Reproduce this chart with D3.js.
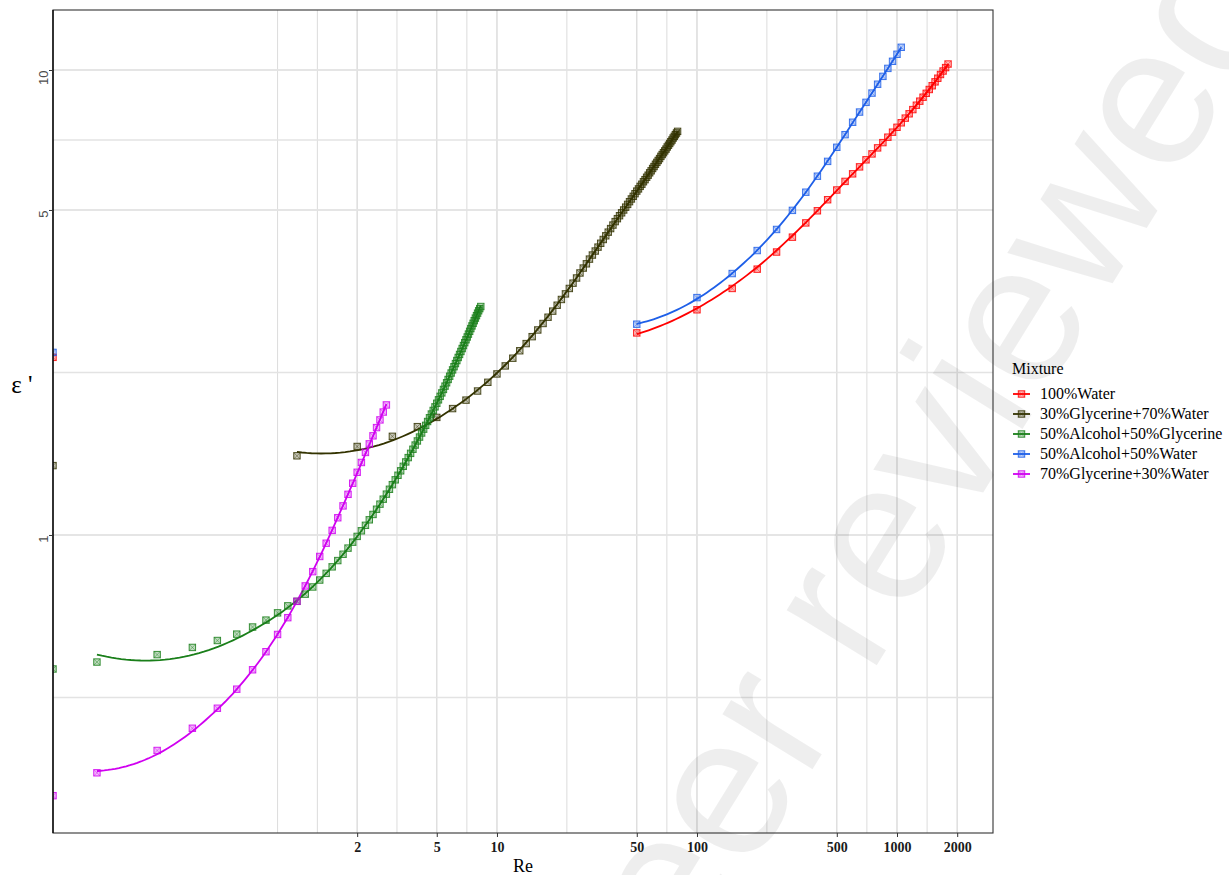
<!DOCTYPE html>
<html>
<head>
<meta charset="utf-8">
<script src="https://cdn.jsdelivr.net/npm/d3@7"></script>
<style>
  body { margin: 0; background: #ffffff; }
  svg { display: block; }
</style>
</head>
<body>
<svg id="chart" width="1229" height="875"></svg>
<script>
// ---------------------------------------------------------------
// Data: real part of permittivity (ε') against Reynolds number
// ---------------------------------------------------------------
const mixtures = [
  "100%Water",
  "30%Glycerine+70%Water",
  "50%Alcohol+50%Glycerine",
  "50%Alcohol+50%Water",
  "70%Glycerine+30%Water"
];

const reWater = [0, 50, 100, 150, 200, 250, 300, 350, 400, 450, 500, 550, 600, 650, 700, 750, 800, 850, 900, 950,
  1000, 1050, 1100, 1150, 1200, 1250, 1300, 1350, 1400, 1450, 1500, 1550, 1600, 1650, 1700, 1750, 1800];
const epsWater = [2.41, 2.72, 3.05, 3.39, 3.73, 4.06, 4.37, 4.69, 4.98, 5.26, 5.52, 5.76, 5.98, 6.19, 6.41, 6.60, 6.80, 6.98, 7.17, 7.35,
  7.53, 7.70, 7.88, 8.05, 8.22, 8.40, 8.57, 8.74, 8.91, 9.08, 9.25, 9.43, 9.60, 9.78, 9.95, 10.12, 10.30];

const reGly30 = [0, 1, 2, 3, 4, 5, 6, 7, 8, 9, 10, 11, 12, 13, 14, 15, 16, 17, 18, 19, 20,
  21, 22, 23, 24, 25, 26, 27, 28, 29, 30, 31, 32, 33, 34, 35, 36, 37, 38, 39, 40,
  41, 42, 43, 44, 45, 46, 47, 48, 49, 50, 51, 52, 53, 54, 55, 56, 57, 58, 59, 60,
  61, 62, 63, 64, 65, 66, 67, 68, 69, 70, 71, 72, 73, 74, 75, 76, 77, 78, 79, 80];
const epsGly30 = [1.41, 1.48, 1.55, 1.63, 1.71, 1.79, 1.87, 1.95, 2.04, 2.13, 2.22, 2.31, 2.40, 2.49, 2.58, 2.67, 2.76, 2.85, 2.94, 3.03, 3.12,
  3.21, 3.30, 3.39, 3.48, 3.57, 3.66, 3.75, 3.83, 3.92, 4.00, 4.08, 4.16, 4.24, 4.32, 4.40, 4.48, 4.56, 4.64, 4.72, 4.79,
  4.86, 4.93, 5.00, 5.07, 5.14, 5.21, 5.28, 5.35, 5.42, 5.49, 5.55, 5.62, 5.68, 5.75, 5.81, 5.88, 5.94, 6.01, 6.07, 6.14,
  6.20, 6.27, 6.33, 6.39, 6.45, 6.52, 6.58, 6.64, 6.70, 6.76, 6.83, 6.89, 6.95, 7.01, 7.07, 7.14, 7.20, 7.26, 7.32, 7.38];

const reAlcGly = [0, 0.1, 0.2, 0.3, 0.4, 0.5, 0.6, 0.7, 0.8, 0.9, 1.0,
  1.1, 1.2, 1.3, 1.4, 1.5, 1.6, 1.7, 1.8, 1.9, 2.0, 2.1, 2.2, 2.3, 2.4, 2.5, 2.6, 2.7, 2.8, 2.9, 3.0,
  3.1, 3.2, 3.3, 3.4, 3.5, 3.6, 3.7, 3.8, 3.9, 4.0, 4.1, 4.2, 4.3, 4.4, 4.5, 4.6, 4.7, 4.8, 4.9, 5.0,
  5.1, 5.2, 5.3, 5.4, 5.5, 5.6, 5.7, 5.8, 5.9, 6.0, 6.1, 6.2, 6.3, 6.4, 6.5, 6.6, 6.7, 6.8, 6.9, 7.0,
  7.1, 7.2, 7.3, 7.4, 7.5, 7.6, 7.7, 7.8, 7.9, 8.0, 8.1, 8.2, 8.3];
const epsAlcGly = [0.515, 0.533, 0.553, 0.573, 0.593, 0.612, 0.634, 0.656, 0.680, 0.704, 0.720,
  0.746, 0.773, 0.800, 0.827, 0.854, 0.881, 0.909, 0.937, 0.965, 0.993, 1.021, 1.049, 1.078, 1.107, 1.136, 1.165, 1.194, 1.224, 1.254, 1.283,
  1.314, 1.344, 1.374, 1.405, 1.436, 1.467, 1.498, 1.529, 1.561, 1.593, 1.624, 1.657, 1.689, 1.721, 1.754, 1.787, 1.820, 1.853, 1.886, 1.920,
  1.953, 1.987, 2.021, 2.056, 2.090, 2.125, 2.160, 2.195, 2.230, 2.265, 2.301, 2.337, 2.372, 2.409, 2.445, 2.481, 2.518, 2.555, 2.592, 2.629,
  2.666, 2.704, 2.742, 2.779, 2.816, 2.853, 2.890, 2.927, 2.963, 3.000, 3.035, 3.068, 3.100];

const reAlcWater = [0, 50, 100, 150, 200, 250, 300, 350, 400, 450, 500, 550, 600, 650, 700, 750, 800, 850, 900, 950, 1000, 1050];
const epsAlcWater = [2.47, 2.84, 3.24, 3.65, 4.09, 4.54, 4.99, 5.46, 5.91, 6.36, 6.82, 7.26, 7.72, 8.12, 8.52, 8.92, 9.32, 9.69, 10.08, 10.44, 10.81, 11.19];

const reGly70 = [0, 0.1, 0.2, 0.3, 0.4, 0.5, 0.6, 0.7, 0.8, 0.9, 1.0,
  1.1, 1.2, 1.3, 1.4, 1.5, 1.6, 1.7, 1.8, 1.9, 2.0, 2.1, 2.2, 2.3, 2.4, 2.5, 2.6, 2.7, 2.8];
const epsGly70 = [0.275, 0.308, 0.344, 0.384, 0.424, 0.466, 0.513, 0.561, 0.611, 0.664, 0.720,
  0.777, 0.834, 0.899, 0.960, 1.023, 1.089, 1.155, 1.223, 1.292, 1.364, 1.432, 1.505, 1.570, 1.634, 1.702, 1.768, 1.838, 1.904];

const xTickValues = [2, 5, 10, 50, 100, 500, 1000, 2000];
const yTickValues = [1, 5, 10];

// ---------------------------------------------------------------
// Styling and layout
// ---------------------------------------------------------------
const seriesColors = ["#FF0000", "#333300", "#1A7F1A", "#1E5FE8", "#D000F0"];
const serif = "'Liberation Serif', 'Times New Roman', serif";
const sans = "'Liberation Sans', Arial, sans-serif";
const panel = { left: 53, right: 993, top: 10, bottom: 833 };

const series = [
  { name: mixtures[0], re: reWater, eps: epsWater },
  { name: mixtures[1], re: reGly30, eps: epsGly30 },
  { name: mixtures[2], re: reAlcGly, eps: epsAlcGly },
  { name: mixtures[3], re: reAlcWater, eps: epsAlcWater },
  { name: mixtures[4], re: reGly70, eps: epsGly70 }
].map((s, i) => ({ ...s, color: seriesColors[i],
  points: s.re.map((r, j) => ({ re: r, eps: s.eps[j] })) }));

const svg = d3.select("#chart");

const x = d3.scaleLog().domain([0.0603, 3020]).range([panel.left, panel.right]);
const y = d3.scaleLog().domain([0.2286, 13.46]).range([panel.bottom, panel.top]);

// Re = 0 cannot sit on a log axis: it is pinned to the panel's left edge
const px = r => (r > 0 ? x(r) : panel.left);

// Minor breaks: midpoints (in log space) between major breaks, extended by one step
function minorBreaks(majors, lo, hi) {
  const b = majors.map(Math.log10);
  const bd = b[1] - b[0];
  const ext = b.slice();
  if (Math.log10(lo) < b[0]) ext.unshift(b[0] - bd);
  if (Math.log10(hi) > b[b.length - 1]) ext.push(b[b.length - 1] + bd);
  const out = [];
  for (let i = 0; i < ext.length - 1; i++) {
    out.push(ext[i]);
    out.push((ext[i] + ext[i + 1]) / 2);
  }
  out.push(ext[ext.length - 1]);
  return out.map(v => Math.pow(10, v)).filter(v => v >= lo && v <= hi);
}

const grid = svg.append("g");
const xMinor = minorBreaks(xTickValues, x.domain()[0], x.domain()[1]);
const yMinor = minorBreaks(yTickValues, y.domain()[0], y.domain()[1]);

grid.selectAll("line.xg").data(xMinor.concat(xTickValues)).join("line")
  .attr("x1", d => x(d)).attr("x2", d => x(d))
  .attr("y1", panel.top).attr("y2", panel.bottom)
  .attr("stroke", "#DCDCDC").attr("stroke-width", 1);
grid.selectAll("line.yg").data(yMinor.concat(yTickValues)).join("line")
  .attr("y1", d => y(d)).attr("y2", d => y(d))
  .attr("x1", panel.left).attr("x2", panel.right)
  .attr("stroke", "#E3E3E3").attr("stroke-width", 1.3);

// Watermark across the lower right
svg.append("text")
  .attr("transform", "translate(1290,-4) rotate(-58.3)")
  .attr("text-anchor", "end")
  .attr("font-family", sans)
  .attr("font-size", 200)
  .attr("fill", "#000").attr("fill-opacity", 0.065)
  .text("Preprint not peer reviewed");

// Clip region for the data layer
svg.append("defs").append("clipPath").attr("id", "panel-clip")
  .append("rect")
  .attr("x", panel.left).attr("y", panel.top)
  .attr("width", panel.right - panel.left).attr("height", panel.bottom - panel.top);

const dataLayer = svg.append("g").attr("clip-path", "url(#panel-clip)");

// Local quadratic regression (loess, span 0.75, tricube weights) in log-log space
function loessCurve(pts, span = 0.75, nOut = 80) {
  const xs = pts.map(p => Math.log10(p.re)), ys = pts.map(p => Math.log10(p.eps));
  const n = xs.length, q = Math.floor(n * span);
  const det = m => m[0][0] * (m[1][1] * m[2][2] - m[1][2] * m[2][1])
    - m[0][1] * (m[1][0] * m[2][2] - m[1][2] * m[2][0])
    + m[0][2] * (m[1][0] * m[2][1] - m[1][1] * m[2][0]);
  const lo = d3.min(xs), hi = d3.max(xs);
  return d3.range(nOut).map(i => {
    const x0 = lo + (hi - lo) * i / (nOut - 1);
    const dist = xs.map(v => Math.abs(v - x0));
    const h = dist.slice().sort((a, b) => a - b)[q - 1] * 1.0001;
    const s = [0, 0, 0, 0, 0], t = [0, 0, 0];
    xs.forEach((xv, k) => {
      const r = dist[k] / h;
      if (r >= 1) return;
      const w = Math.pow(1 - r * r * r, 3), u = xv - x0;
      for (let e = 0; e < 5; e++) s[e] += w * Math.pow(u, e);
      for (let e = 0; e < 3; e++) t[e] += w * Math.pow(u, e) * ys[k];
    });
    const A = [[s[0], s[1], s[2]], [s[1], s[2], s[3]], [s[2], s[3], s[4]]];
    const A0 = A.map((row, r) => [t[r], row[1], row[2]]);
    const fit = det(A0) / det(A);
    return { re: Math.pow(10, x0), eps: Math.pow(10, fit) };
  });
}

const line = d3.line().x(d => x(d.re)).y(d => y(d.eps));

series.forEach(s => {
  const fitPts = loessCurve(s.points.filter(p => p.re > 0));
  dataLayer.append("path")
    .attr("d", line(fitPts))
    .attr("fill", "none").attr("stroke", s.color).attr("stroke-width", 1.8);
});

// Square-cross markers
function marker(g, cx, cy, color) {
  const h = 3.2;
  g.append("rect").attr("x", cx - h).attr("y", cy - h).attr("width", 2 * h).attr("height", 2 * h)
    .attr("fill", color).attr("fill-opacity", 0.28)
    .attr("stroke", color).attr("stroke-width", 1).attr("stroke-opacity", 0.85);
  g.append("path").attr("d", `M${cx - h},${cy - h}L${cx + h},${cy + h}M${cx - h},${cy + h}L${cx + h},${cy - h}`)
    .attr("stroke", color).attr("stroke-width", 0.7).attr("stroke-opacity", 0.6);
}

series.forEach(s => {
  const g = dataLayer.append("g");
  s.points.forEach(p => marker(g, px(p.re), y(p.eps), s.color));
});

// Panel border
svg.append("rect")
  .attr("x", panel.left).attr("y", panel.top)
  .attr("width", panel.right - panel.left).attr("height", panel.bottom - panel.top)
  .attr("fill", "none").attr("stroke", "#333333").attr("stroke-width", 1.1);
svg.append("line").attr("x1", panel.left).attr("x2", panel.left)
  .attr("y1", panel.top).attr("y2", panel.bottom)
  .attr("stroke", "#000").attr("stroke-width", 1.3);

// X axis
const xAxis = d3.axisBottom(x).tickValues(xTickValues).tickFormat(d3.format("d")).tickSize(4).tickPadding(5);
const gx = svg.append("g").attr("transform", `translate(0,${panel.bottom})`).call(xAxis);
gx.select(".domain").remove();
gx.selectAll(".tick line").attr("stroke", "#333333");
gx.selectAll(".tick text").attr("font-family", serif).attr("font-size", 14)
  .attr("font-weight", "bold").attr("fill", "#1a1a1a");

// Y axis (labels turned vertical, ending at their tick)
const yAxis = d3.axisLeft(y).tickValues(yTickValues).tickFormat(d3.format("d")).tickSize(4);
const gy = svg.append("g").attr("transform", `translate(${panel.left},0)`).call(yAxis);
gy.select(".domain").remove();
gy.selectAll(".tick line").attr("stroke", "#333333");
gy.selectAll(".tick text")
  .attr("x", null).attr("dy", null)
  .attr("transform", "translate(-5,0) rotate(-90)")
  .attr("text-anchor", "end")
  .attr("font-family", sans).attr("font-size", 13).attr("fill", "#4D4D4D");

// Axis titles
svg.append("text").attr("x", (panel.left + panel.right) / 2).attr("y", 872)
  .attr("text-anchor", "middle").attr("font-family", serif).attr("font-size", 18)
  .attr("fill", "#000").text("Re");
svg.append("text").attr("x", 22).attr("y", 393)
  .attr("text-anchor", "middle").attr("font-family", serif).attr("font-size", 25)
  .attr("fill", "#000").text("ε '");

// Legend
const legend = svg.append("g").attr("transform", "translate(1012,0)");
legend.append("text").attr("x", 0).attr("y", 374)
  .attr("font-family", serif).attr("font-size", 16).attr("fill", "#000").text("Mixture");
series.forEach((s, i) => {
  const cy = 394 + i * 20;
  const row = legend.append("g");
  row.append("line").attr("x1", 1).attr("x2", 18).attr("y1", cy).attr("y2", cy)
    .attr("stroke", s.color).attr("stroke-width", 1.8);
  marker(row, 9.5, cy, s.color);
  row.append("text").attr("x", 28).attr("y", cy + 5)
    .attr("font-family", serif).attr("font-size", 16).attr("fill", "#000").text(s.name);
});
</script>
</body>
</html>
